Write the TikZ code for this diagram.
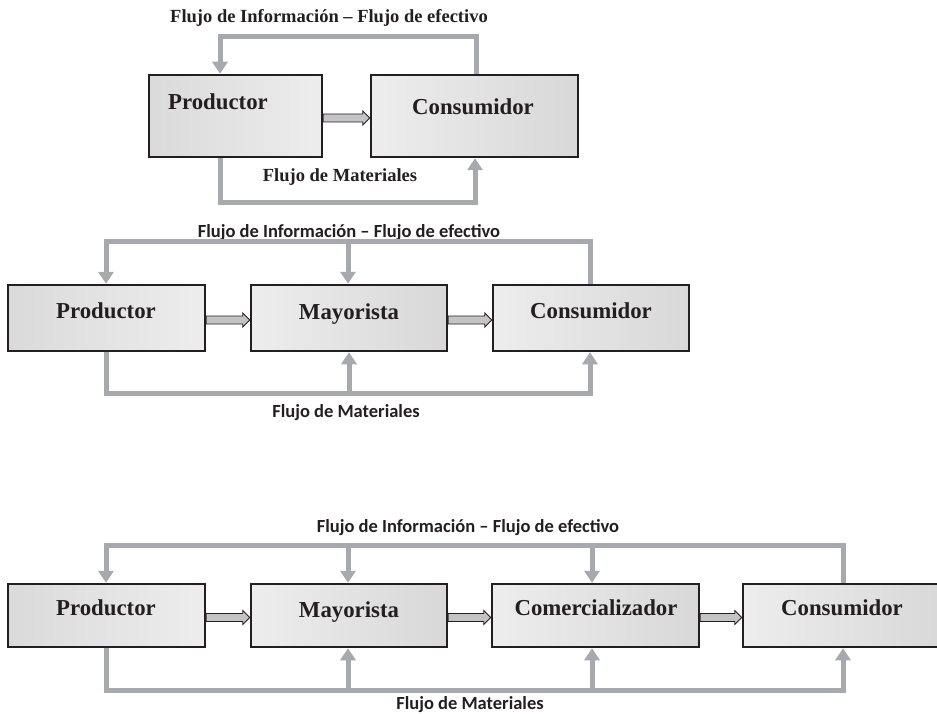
\documentclass[tikz,border=0pt]{standalone}
\usepackage{fontspec}
\setmainfont{Liberation Serif}
\newfontfamily\sansfont{Carlito}
\usetikzlibrary{arrows.meta,calc}
\definecolor{flowgray}{HTML}{A7A9AC}
\definecolor{boxline}{HTML}{231F20}
\definecolor{arrfill}{HTML}{C4C4C6}
\definecolor{boxL}{HTML}{EDEDED}
\definecolor{boxR}{HTML}{D8D8D8}
\tikzset{
  box/.style={draw=boxline, line width=2.5pt, inner sep=0pt, left color=boxL, right color=boxR},
  boxrev/.style={box, left color=boxR!90!boxL, right color=boxL},
  lbl/.style={inner sep=0pt, anchor=base, text=boxline, font=\fontsize{22.8}{25}\selectfont\bfseries},
  ttlserif/.style={inner sep=0pt, anchor=base, text=boxline, font=\fontsize{18.5}{20}\selectfont\bfseries},
  ttlsans/.style={inner sep=0pt, anchor=base, text=boxline, font=\sansfont\fontsize{18.5}{20}\selectfont\bfseries},
  flow/.style={draw=flowgray, line width=5pt, line join=miter, -{Triangle[length=12pt,width=15pt]}},
  flowplain/.style={draw=flowgray, line width=5pt, line join=miter},
  fatarr/.style={draw=boxline, fill=arrfill, line width=0.8pt, line join=miter},
}
\newcommand\fatarrow[2]{%
  \draw[fatarr] let \p1=(#1.east), \p2=(#2.west) in
    (\x1,\y1+2pt) -- (\x2-7pt,\y1+2pt) -- (\x2-7pt,\y1+5pt) -- (\x2,\y1-2pt)
    -- (\x2-7pt,\y1-9pt) -- (\x2-7pt,\y1-6pt) -- (\x1,\y1-6pt) -- cycle;}
\begin{document}
\begin{tikzpicture}[x=1pt,y=-1pt]
\clip (0,0) rectangle (937,714);
\fill[white] (0,0) rectangle (937,714);

% ---------------- Diagram 1 ----------------
\node[ttlserif] (t1) at (329,23) {Flujo de Información – Flujo de efectivo};
\node[boxrev, minimum width=173pt, minimum height=82pt] (p1) at (235.5,116) {};
\node[box, minimum width=207pt, minimum height=82pt] (c1) at (474.5,116) {};
\node[lbl] (p1l) at (218,109.5) {Productor};
\node[lbl] (c1l) at (473,115) {Consumidor};
\fatarrow{p1}{c1}
\coordinate (a1) at (220,37);
\coordinate (a2) at (476,37);
\draw[flow] (c1.north -| a2) -- (a2) -- (a1) -- (p1.north -| a1);
\coordinate (b1) at (220,202.5);
\coordinate (b2) at (475,202.5);
\draw[flow] (p1.south -| b1) -- (b1) -- (b2) -- (c1.south -| b2);
\node[ttlserif] (m1) at (340,182) {Flujo de Materiales};

% ---------------- Diagram 2 ----------------
\node[ttlsans] (t2) at (349,237) {Flujo de Información – Flujo de efectivo};
\node[boxrev, minimum width=197pt, minimum height=66pt] (p2) at (106.5,318) {};
\node[box, minimum width=196pt, minimum height=66pt] (w2) at (349,318) {};
\node[box, minimum width=196pt, minimum height=66pt] (c2) at (591,318) {};
\node[lbl] (p2l) at (106,318.5) {Productor};
\node[lbl] (w2l) at (349,319) {Mayorista};
\node[lbl] (c2l) at (591,318.5) {Consumidor};
\fatarrow{p2}{w2}
\fatarrow{w2}{c2}
\coordinate (q1) at (106,241.5);
\coordinate (q2) at (348,241.5);
\coordinate (q3) at (590,241.5);
\draw[flow] (c2.north -| q3) -- (q3) -- (q1) -- (p2.north -| q1);
\draw[flow] (q2) -- (w2.north -| q2);
\coordinate (r1) at (106,393);
\coordinate (r2) at (349,393);
\coordinate (r3) at (590,393);
\draw[flow] (p2.south -| r1) -- (r1) -- (r3) -- (c2.south -| r3);
\draw[flow] (r2) -- (w2.south -| r2);
\node[ttlsans] (m2) at (346,417) {Flujo de Materiales};

% ---------------- Diagram 3 ----------------
\node[ttlsans] (t3) at (468,532) {Flujo de Información – Flujo de efectivo};
\node[boxrev, minimum width=197pt, minimum height=63pt] (p3) at (106.5,615.5) {};
\node[box, minimum width=196pt, minimum height=63pt] (w3) at (349,615.5) {};
\node[box, minimum width=207pt, minimum height=63pt] (k3) at (595.5,615.5) {};
\node[box, minimum width=201pt, minimum height=63pt] (c3) at (843.5,615.5) {};
\node[lbl] (p3l) at (106,615) {Productor};
\node[lbl] (w3l) at (349,617) {Mayorista};
\node[lbl] (k3l) at (596,615) {Comercializador};
\node[lbl] (c3l) at (842,615) {Consumidor};
\fatarrow{p3}{w3}
\fatarrow{w3}{k3}
\fatarrow{k3}{c3}
\coordinate (s1) at (106,545);
\coordinate (s2) at (348,545);
\coordinate (s3) at (592,545);
\coordinate (s4) at (843,545);
\draw[flow] (c3.north -| s4) -- (s4) -- (s1) -- (p3.north -| s1);
\draw[flow] (s2) -- (w3.north -| s2);
\draw[flow] (s3) -- (k3.north -| s3);
\coordinate (u1) at (106,690);
\coordinate (u2) at (348,690);
\coordinate (u3) at (592,690);
\coordinate (u4) at (843,690);
\draw[flow] (p3.south -| u1) -- (u1) -- (u4) -- (c3.south -| u4);
\draw[flow] (u2) -- (w3.south -| u2);
\draw[flow] (u3) -- (k3.south -| u3);
\node[ttlsans] (m3) at (470,709) {Flujo de Materiales};
\end{tikzpicture}
\end{document}
